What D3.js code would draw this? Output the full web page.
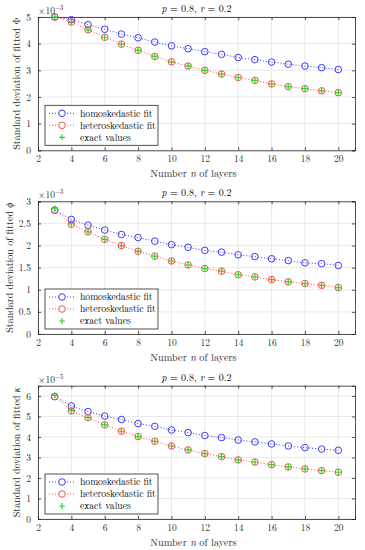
<!DOCTYPE html>
<html>
<head>
<meta charset="utf-8">
<script src="https://d3js.org/d3.v7.min.js"></script>
<style>
body { margin: 0; background: #fff; }
.grid line { stroke: #e3e3e3; stroke-width: 0.8; }
</style>
</head>
<body>
<svg width="365" height="550"></svg>
<script>
// layers n
var layers = [3,4,5,6,7,8,9,10,11,12,13,14,15,16,17,18,19,20];

// Phi (x1e-3)
var phiHomo   = [5.00,4.90,4.71,4.54,4.36,4.22,4.06,3.92,3.81,3.70,3.60,3.48,3.40,3.31,3.23,3.16,3.10,3.03];
var phiHetero = [5.00,4.81,4.52,4.24,3.98,3.75,3.52,3.32,3.16,3.00,2.86,2.73,2.62,2.49,2.39,2.31,2.23,2.16];
var phiExact  = [5.00,4.82,4.52,4.24,3.98,3.75,3.52,3.32,3.16,3.00,2.86,2.73,2.62,2.49,2.39,2.31,2.23,2.16];

// phi (x1e-3)
var phHomo   = [2.80,2.59,2.46,2.35,2.25,2.18,2.10,2.02,1.96,1.89,1.85,1.79,1.75,1.70,1.66,1.61,1.59,1.55];
var phHetero = [2.80,2.48,2.31,2.14,2.00,1.87,1.76,1.65,1.56,1.48,1.42,1.34,1.29,1.23,1.18,1.14,1.10,1.05];
var phExact  = [2.83,2.49,2.31,2.14,2.00,1.87,1.76,1.65,1.56,1.48,1.42,1.34,1.29,1.23,1.18,1.14,1.10,1.05];

// kappa (x1e-5)
var kaHomo   = [5.97,5.51,5.24,5.02,4.85,4.65,4.52,4.34,4.21,4.07,3.97,3.85,3.76,3.66,3.56,3.48,3.41,3.35];
var kaHetero = [5.97,5.27,4.94,4.59,4.28,4.02,3.79,3.56,3.37,3.19,3.04,2.88,2.78,2.65,2.54,2.44,2.36,2.28];
var kaExact  = [6.03,5.28,4.94,4.59,4.28,4.02,3.79,3.56,3.37,3.19,3.04,2.88,2.78,2.65,2.54,2.44,2.36,2.28];

var xTicks = [2,4,6,8,10,12,14,16,18,20];
var legendLabels = ["homoskedastic fit", "heteroskedastic fit", "exact values"];

var svg = d3.select("svg");
var left = 38, right = 355;
var serif = "'Latin Modern Roman', 'Liberation Serif', serif";

var x = d3.scaleLinear().domain([2, 21]).range([left, right]);

function panel(top, bottom, ymax, yTicks, fmt, expo, symbol, italic, homo, hetero, exact, labelX) {
  var g = svg.append("g");
  var y = d3.scaleLinear().domain([0, ymax]).range([bottom, top]);

  // grid
  var grid = g.append("g").attr("class", "grid");
  grid.selectAll(".gx").data(xTicks).enter().append("line")
    .attr("x1", d => x(d)).attr("x2", d => x(d)).attr("y1", top).attr("y2", bottom);
  grid.selectAll(".gy").data(yTicks).enter().append("line")
    .attr("x1", left).attr("x2", right).attr("y1", d => y(d)).attr("y2", d => y(d));

  // axes
  var axes = [
    g.append("g").attr("transform", "translate(0," + bottom + ")")
      .call(d3.axisBottom(x).tickValues(xTicks).tickSize(-3).tickPadding(5)),
    g.append("g").attr("transform", "translate(" + left + ",0)")
      .call(d3.axisLeft(y).tickValues(yTicks).tickFormat(fmt).tickSize(-3).tickPadding(7)),
    g.append("g").attr("transform", "translate(0," + top + ")")
      .call(d3.axisTop(x).tickValues(xTicks).tickSize(-3).tickFormat("")),
    g.append("g").attr("transform", "translate(" + right + ",0)")
      .call(d3.axisRight(y).tickValues(yTicks).tickSize(-3).tickFormat(""))
  ];
  axes.forEach(a => a.attr("font-family", serif).attr("font-size", 9.5));
  g.selectAll(".domain").attr("stroke", "#262626").attr("stroke-width", 0.8);
  g.selectAll(".tick line").attr("stroke", "#262626").attr("stroke-width", 0.8);
  g.selectAll(".tick text").attr("fill", "#262626");

  // lines
  var line = d3.line().x((d, i) => x(layers[i])).y(d => y(d));
  g.append("path").datum(homo).attr("d", line).attr("fill", "none")
    .attr("stroke", "#3a3aff").attr("stroke-width", 1).attr("stroke-dasharray", "1,2");
  g.append("path").datum(hetero).attr("d", line).attr("fill", "none")
    .attr("stroke", "#ff4a4a").attr("stroke-width", 1).attr("stroke-dasharray", "1,2");

  g.selectAll(".mh").data(homo).enter().append("circle")
    .attr("cx", (d, i) => x(layers[i])).attr("cy", d => y(d)).attr("r", 3.3)
    .attr("fill", "none").attr("stroke", "#3a3aff").attr("stroke-width", 1);
  g.selectAll(".mr").data(hetero).enter().append("circle")
    .attr("cx", (d, i) => x(layers[i])).attr("cy", d => y(d)).attr("r", 3.3)
    .attr("fill", "none").attr("stroke", "#ff4a4a").attr("stroke-width", 1);
  g.selectAll(".me").data(exact).enter().append("path")
    .attr("d", (d, i) => {
      var cx = x(layers[i]), cy = y(d);
      return "M" + (cx - 3) + "," + cy + "H" + (cx + 3) + "M" + cx + "," + (cy - 3) + "V" + (cy + 3);
    })
    .attr("stroke", "#22dd22").attr("stroke-width", 1.2);

  // title
  var t = g.append("text").attr("x", (left + right) / 2).attr("y", top - 5)
    .attr("text-anchor", "middle").attr("font-size", 10).attr("fill", "#000");
  t.append("tspan").attr("font-style", "italic").text("p");
  t.append("tspan").text(" = 0.8, ");
  t.append("tspan").attr("font-style", "italic").text("r");
  t.append("tspan").text(" = 0.2");

  // exponent
  var e = g.append("text").attr("x", left).attr("y", top - 3).attr("font-size", 9.5).attr("fill", "#262626");
  e.append("tspan").text("×10");
  e.append("tspan").attr("dy", -4).attr("font-size", 6.5).text(expo);

  // x label
  var xl = g.append("text").attr("x", (left + right) / 2 - 3).attr("y", bottom + 26.5)
    .attr("text-anchor", "middle").attr("font-size", 10.3).attr("fill", "#262626");
  xl.append("tspan").text("Number ");
  xl.append("tspan").attr("font-style", "italic").text("n");
  xl.append("tspan").text(" of layers");

  // y label
  var yl = g.append("text")
    .attr("transform", "translate(" + labelX + "," + (top + bottom) / 2 + ") rotate(-90)")
    .attr("text-anchor", "middle").attr("font-size", 10).attr("fill", "#262626");
  yl.append("tspan").text("Standard deviation of fitted ");
  yl.append("tspan").attr("font-style", italic ? "italic" : "normal").text(symbol);

  // legend
  var lx = left + 7, lw = 113, lh = 40, ly = bottom - 5 - lh;
  var lg = g.append("g");
  lg.append("rect").attr("x", lx).attr("y", ly).attr("width", lw).attr("height", lh)
    .attr("fill", "#fff").attr("stroke", "#262626").attr("stroke-width", 0.8);
  var colors = ["#3a3aff", "#ff4a4a", "#22dd22"];
  legendLabels.forEach(function (lab, i) {
    var ry = ly + 8 + i * 12;
    if (i < 2) {
      lg.append("line").attr("x1", lx + 4).attr("x2", lx + 30).attr("y1", ry).attr("y2", ry)
        .attr("stroke", colors[i]).attr("stroke-dasharray", "1,2");
      lg.append("circle").attr("cx", lx + 17).attr("cy", ry).attr("r", 3.3)
        .attr("fill", "#fff").attr("stroke", colors[i]);
    } else {
      lg.append("path").attr("d", "M" + (lx + 14) + "," + ry + "H" + (lx + 20) + "M" + (lx + 17) + "," + (ry - 3) + "V" + (ry + 3))
        .attr("stroke", colors[i]).attr("stroke-width", 1.2);
    }
    lg.append("text").attr("x", lx + 35).attr("y", ry + 3.3).attr("font-size", 9.6)
      .attr("fill", "#000").text(lab);
  });
}

panel(17, 150.3, 5, [0,1,2,3,4,5], d3.format("d"), "−3", "Φ", false, phiHomo, phiHetero, phiExact, 20);
panel(201.3, 334, 3, [0,0.5,1,1.5,2,2.5,3], d => String(d), "−3", "ϕ", true, phHomo, phHetero, phExact, 13);
panel(385.7, 519, 6.5, [0,1,2,3,4,5,6], d3.format("d"), "−5", "κ", true, kaHomo, kaHetero, kaExact, 20);

svg.selectAll("text").attr("font-family", serif);
</script>
</body>
</html>
